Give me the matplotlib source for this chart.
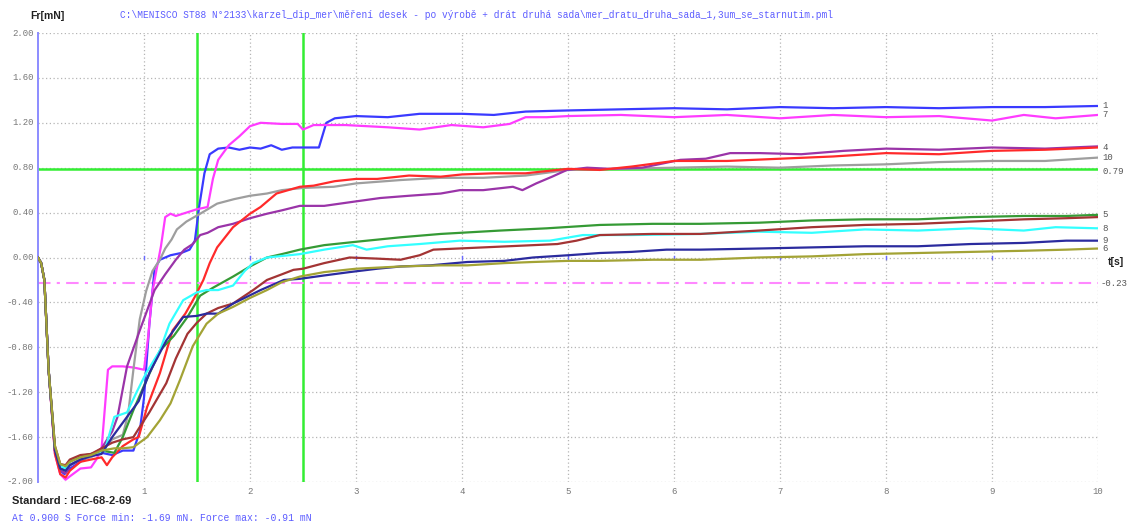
import matplotlib
matplotlib.use("Agg")
import matplotlib.pyplot as plt

# ---------------- data ----------------
blue_t = [0, 0.03, 0.06, 0.1, 0.16, 0.21, 0.25, 0.3, 0.4, 0.5, 0.6, 0.7, 0.8, 0.9, 0.96, 1.0, 1.05, 1.1, 1.15, 1.25, 1.35, 1.43, 1.48, 1.52, 1.57, 1.62, 1.7, 1.8, 1.9, 2.0, 2.1, 2.2, 2.3, 2.4, 2.5, 2.6, 2.65, 2.72, 2.8, 3.0, 3.3, 3.6, 4.0, 4.3, 4.6, 5.0, 5.5, 6.0, 6.5, 7.0, 7.5, 8.0, 8.5, 9.0, 9.5, 10.0]
blue_y = [0, -0.05, -0.2, -1.0, -1.72, -1.9, -1.93, -1.88, -1.82, -1.76, -1.74, -1.76, -1.72, -1.72, -1.55, -1.25, -0.6, -0.1, -0.02, 0.02, 0.04, 0.07, 0.15, 0.45, 0.75, 0.92, 0.97, 0.98, 0.96, 0.98, 0.97, 1.0, 0.96, 0.98, 0.98, 0.98, 0.98, 1.2, 1.24, 1.26, 1.25, 1.28, 1.28, 1.27, 1.30, 1.31, 1.32, 1.33, 1.32, 1.34, 1.33, 1.34, 1.33, 1.34, 1.34, 1.35]

magenta_t = [0, 0.03, 0.06, 0.1, 0.16, 0.21, 0.26, 0.3, 0.4, 0.5, 0.55, 0.6, 0.63, 0.66, 0.7, 0.8, 0.9, 1.0, 1.04, 1.08, 1.12, 1.16, 1.2, 1.25, 1.3, 1.4, 1.5, 1.6, 1.65, 1.7, 1.8, 1.9, 2.0, 2.1, 2.3, 2.45, 2.5, 2.6, 2.9, 3.1, 3.3, 3.6, 3.9, 4.2, 4.45, 4.6, 4.8, 5.0, 5.5, 6.0, 6.5, 7.0, 7.5, 8.0, 8.5, 9.0, 9.3, 9.6, 10.0]
magenta_y = [0, -0.05, -0.2, -1.0, -1.75, -1.93, -1.98, -1.95, -1.88, -1.87, -1.8, -1.7, -1.35, -1.0, -0.97, -0.97, -0.98, -1.0, -0.7, -0.3, -0.1, 0.1, 0.36, 0.39, 0.37, 0.40, 0.43, 0.45, 0.7, 0.87, 1.0, 1.08, 1.17, 1.2, 1.19, 1.19, 1.14, 1.18, 1.18, 1.17, 1.16, 1.14, 1.18, 1.16, 1.19, 1.25, 1.25, 1.26, 1.27, 1.25, 1.27, 1.24, 1.27, 1.25, 1.26, 1.22, 1.27, 1.24, 1.27]

red_t = [0, 0.03, 0.06, 0.1, 0.16, 0.21, 0.26, 0.3, 0.4, 0.5, 0.6, 0.65, 0.7, 0.8, 0.9, 0.95, 1.03, 1.15, 1.27, 1.39, 1.48, 1.56, 1.62, 1.69, 1.84, 2.0, 2.1, 2.25, 2.47, 2.6, 2.8, 3.0, 3.2, 3.5, 3.8, 4.0, 4.3, 4.6, 5.0, 5.3, 5.6, 6.0, 6.5, 7.0, 7.5, 8.0, 8.5, 9.0, 9.5, 10.0]
red_y = [0, -0.05, -0.2, -1.0, -1.75, -1.93, -1.96, -1.9, -1.82, -1.8, -1.78, -1.85, -1.78, -1.68, -1.62, -1.6, -1.33, -1.03, -0.65, -0.5, -0.35, -0.2, -0.05, 0.09, 0.27, 0.39, 0.45, 0.57, 0.63, 0.64, 0.68, 0.7, 0.7, 0.73, 0.72, 0.74, 0.75, 0.75, 0.79, 0.78, 0.81, 0.86, 0.86, 0.88, 0.9, 0.93, 0.92, 0.95, 0.96, 0.98]

gray_t = [0, 0.03, 0.06, 0.1, 0.16, 0.21, 0.26, 0.3, 0.4, 0.5, 0.6, 0.7, 0.8, 0.85, 0.9, 0.96, 1.02, 1.08, 1.15, 1.2, 1.26, 1.31, 1.4, 1.53, 1.69, 1.85, 2.0, 2.16, 2.3, 2.5, 2.79, 3.0, 3.42, 3.8, 4.2, 4.6, 5.0, 5.5, 6.0, 6.5, 7.0, 7.5, 8.0, 8.5, 9.0, 9.5, 10.0]
gray_y = [0, -0.05, -0.2, -1.0, -1.72, -1.88, -1.9, -1.85, -1.8, -1.78, -1.72, -1.62, -1.58, -1.4, -1.0, -0.55, -0.3, -0.12, -0.02, 0.08, 0.16, 0.25, 0.32, 0.39, 0.48, 0.52, 0.55, 0.57, 0.6, 0.62, 0.63, 0.66, 0.69, 0.71, 0.71, 0.73, 0.78, 0.79, 0.8, 0.81, 0.8, 0.82, 0.83, 0.85, 0.86, 0.86, 0.89]

purple_t = [0, 0.03, 0.06, 0.1, 0.16, 0.21, 0.26, 0.3, 0.4, 0.5, 0.6, 0.7, 0.75, 0.84, 0.96, 1.1, 1.2, 1.3, 1.38, 1.46, 1.53, 1.6, 1.7, 1.84, 2.0, 2.16, 2.3, 2.47, 2.7, 3.0, 3.23, 3.5, 3.8, 3.98, 4.2, 4.48, 4.57, 4.7, 4.85, 4.99, 5.18, 5.4, 5.7, 6.06, 6.3, 6.53, 6.81, 7.2, 7.6, 8.0, 8.5, 9.0, 9.5, 10.0]
purple_y = [0, -0.05, -0.2, -1.0, -1.72, -1.9, -1.92, -1.85, -1.8, -1.76, -1.7, -1.55, -1.42, -0.97, -0.65, -0.29, -0.15, -0.02, 0.07, 0.12, 0.2, 0.22, 0.27, 0.3, 0.35, 0.39, 0.42, 0.46, 0.46, 0.5, 0.53, 0.55, 0.57, 0.6, 0.6, 0.63, 0.6, 0.66, 0.72, 0.78, 0.8, 0.79, 0.8, 0.87, 0.88, 0.93, 0.93, 0.92, 0.95, 0.97, 0.96, 0.98, 0.97, 0.99]

green_t = [0, 0.03, 0.06, 0.1, 0.16, 0.21, 0.26, 0.3, 0.4, 0.5, 0.6, 0.72, 0.8, 0.9, 1.02, 1.15, 1.28, 1.41, 1.53, 1.65, 1.84, 2.0, 2.16, 2.3, 2.47, 2.7, 3.0, 3.42, 3.8, 4.36, 4.8, 5.3, 5.8, 6.25, 6.8, 7.3, 7.8, 8.3, 8.8, 9.3, 9.7, 10.0]
green_y = [0, -0.05, -0.2, -1.0, -1.7, -1.88, -1.88, -1.82, -1.77, -1.75, -1.72, -1.74, -1.6, -1.36, -1.1, -0.83, -0.7, -0.53, -0.34, -0.27, -0.17, -0.08, 0.0, 0.03, 0.07, 0.11, 0.14, 0.18, 0.21, 0.24, 0.26, 0.29, 0.3, 0.3, 0.31, 0.33, 0.34, 0.34, 0.36, 0.37, 0.37, 0.38]

cyan_t = [0, 0.03, 0.06, 0.1, 0.16, 0.21, 0.26, 0.3, 0.4, 0.5, 0.63, 0.72, 0.84, 0.93, 1.02, 1.15, 1.24, 1.37, 1.5, 1.59, 1.7, 1.84, 1.95, 2.03, 2.16, 2.47, 2.7, 2.97, 3.1, 3.3, 3.6, 3.98, 4.4, 4.83, 5.14, 5.6, 6.25, 6.8, 7.3, 7.8, 8.3, 8.8, 9.3, 9.6, 10.0]
cyan_y = [0, -0.05, -0.2, -1.0, -1.7, -1.86, -1.88, -1.82, -1.78, -1.76, -1.72, -1.42, -1.38, -1.2, -1.03, -0.83, -0.59, -0.38, -0.31, -0.29, -0.29, -0.25, -0.12, -0.05, 0.0, 0.03, 0.07, 0.11, 0.07, 0.1, 0.12, 0.15, 0.14, 0.15, 0.2, 0.2, 0.21, 0.23, 0.22, 0.25, 0.24, 0.26, 0.24, 0.27, 0.26]

brown_t = [0, 0.03, 0.06, 0.1, 0.16, 0.21, 0.26, 0.3, 0.4, 0.5, 0.6, 0.7, 0.8, 0.9, 0.96, 1.05, 1.21, 1.3, 1.41, 1.5, 1.59, 1.7, 1.84, 2.03, 2.16, 2.3, 2.41, 2.5, 2.7, 2.94, 3.2, 3.42, 3.6, 3.73, 4.2, 4.67, 4.9, 5.08, 5.3, 5.8, 6.25, 6.8, 7.3, 7.8, 8.3, 8.8, 9.3, 9.7, 10.0]
brown_y = [0, -0.05, -0.2, -1.0, -1.68, -1.84, -1.85, -1.8, -1.76, -1.75, -1.7, -1.65, -1.62, -1.6, -1.51, -1.38, -1.12, -0.9, -0.68, -0.58, -0.5, -0.45, -0.41, -0.29, -0.2, -0.15, -0.11, -0.1, -0.05, 0.0, -0.01, -0.02, 0.02, 0.07, 0.09, 0.11, 0.12, 0.15, 0.2, 0.21, 0.21, 0.24, 0.27, 0.29, 0.3, 0.32, 0.34, 0.35, 0.36]

navy_t = [0, 0.03, 0.06, 0.1, 0.16, 0.21, 0.26, 0.3, 0.4, 0.5, 0.6, 0.7, 0.84, 0.95, 1.05, 1.21, 1.37, 1.5, 1.59, 1.7, 1.84, 1.95, 2.1, 2.32, 2.47, 2.7, 2.94, 3.2, 3.42, 3.7, 4.05, 4.4, 4.67, 5.0, 5.3, 5.6, 5.93, 6.25, 6.8, 7.3, 7.8, 8.3, 8.8, 9.3, 9.7, 10.0]
navy_y = [0, -0.05, -0.2, -1.0, -1.72, -1.88, -1.9, -1.85, -1.8, -1.77, -1.75, -1.6, -1.42, -1.28, -1.03, -0.74, -0.53, -0.52, -0.5, -0.5, -0.41, -0.36, -0.29, -0.2, -0.19, -0.16, -0.13, -0.1, -0.08, -0.07, -0.04, -0.03, 0.0, 0.02, 0.04, 0.05, 0.07, 0.07, 0.08, 0.09, 0.1, 0.1, 0.12, 0.13, 0.15, 0.15]

olive_t = [0, 0.03, 0.06, 0.1, 0.16, 0.21, 0.26, 0.3, 0.4, 0.5, 0.6, 0.72, 0.8, 0.9, 1.03, 1.15, 1.25, 1.34, 1.46, 1.59, 1.7, 1.84, 2.0, 2.16, 2.3, 2.47, 2.7, 3.0, 3.42, 3.8, 4.05, 4.4, 4.67, 5.0, 5.3, 5.8, 6.25, 6.8, 7.3, 7.8, 8.3, 8.8, 9.3, 9.7, 10.0]
olive_y = [0, -0.05, -0.2, -1.0, -1.68, -1.84, -1.86, -1.82, -1.78, -1.76, -1.72, -1.7, -1.7, -1.69, -1.6, -1.45, -1.3, -1.09, -0.79, -0.59, -0.5, -0.44, -0.36, -0.29, -0.22, -0.17, -0.13, -0.1, -0.08, -0.07, -0.07, -0.05, -0.04, -0.03, -0.03, -0.02, -0.02, 0.0, 0.01, 0.03, 0.04, 0.05, 0.06, 0.07, 0.08]

cursor_t = [1.5, 2.5]
level_force = 0.79
mean_force = -0.23

y_ticks = [2.0, 1.6, 1.2, 0.8, 0.4, 0.0, -0.4, -0.8, -1.2, -1.6, -2.0]
x_ticks = [1, 2, 3, 4, 5, 6, 7, 8, 9, 10]

title_path = "C:\\MENISCO ST88 N°2133\\karzel_dip_mer\\měření desek - po výrobě + drát druhá sada\\mer_dratu_druha_sada_1,3um_se_starnutim.pml"
standard_text = "Standard : IEC-68-2-69"
result_text = "At 0.900 S Force min: -1.69 mN. Force max: -0.91 mN"

# ---------------- drawing ----------------
fig = plt.figure(figsize=(11.31, 5.28), dpi=100)
ax = fig.add_axes([38 / 1131, 1 - 482 / 528, (1098 - 38) / 1131, (482 - 33) / 528])
ax.set_xlim(0, 10)
ax.set_ylim(-2.0, 2.0)

mono = "Liberation Mono"
grid_kw = dict(color="#b5b5b5", lw=0.9, ls=(0, (1, 2)), zorder=0)
for xv in x_ticks:
    ax.axvline(xv, **grid_kw)
for yv in y_ticks:
    ax.axhline(yv, **grid_kw)

for s in ["top", "right", "bottom"]:
    ax.spines[s].set_visible(False)
ax.spines["left"].set_color("#8c8cff")
ax.spines["left"].set_linewidth(1.4)
ax.set_xticks([])
ax.set_yticks([])

trans = ax.get_yaxis_transform()
for yv in y_ticks:
    ax.text(-0.004, yv, f"{yv:.2f}", transform=trans, ha="right", va="center",
            fontsize=6.5, family=mono, color="#777777")
xtrans = ax.get_xaxis_transform()
for xv in x_ticks:
    ax.text(xv, -0.022, str(xv), transform=xtrans, ha="center", va="center",
            fontsize=6.5, family=mono, color="#777777")

# small blue tick marks on the zero line
for xv in x_ticks[:-1]:
    ax.plot([xv, xv], [-0.015, 0.015], color="#6a6aff", lw=1.0, zorder=1)

# reference lines
for ct in cursor_t:
    ax.axvline(ct, color="#33ee33", lw=1.8, zorder=2)
ax.axhline(level_force, color="#33ee33", lw=1.8, zorder=2)
ax.axhline(mean_force, color="#ff88ff", lw=1.5, ls=(0, (6, 3, 1.5, 3)), zorder=2)

curves = [
    (blue_t, blue_y, "#3a3aff"),
    (magenta_t, magenta_y, "#ff3cff"),
    (gray_t, gray_y, "#9e9e9e"),
    (purple_t, purple_y, "#9a34a8"),
    (red_t, red_y, "#ff2a2a"),
    (green_t, green_y, "#359a35"),
    (cyan_t, cyan_y, "#33ffff"),
    (brown_t, brown_y, "#a33434"),
    (navy_t, navy_y, "#2b2b9e"),
    (olive_t, olive_y, "#a3a335"),
]
curve_labels = ["1", "7", "10", "", "4", "5", "8", "", "9", "6"]
for (t, y, c), lab in zip(curves, curve_labels):
    ax.plot(t, y, color=c, lw=1.6, zorder=3, solid_joinstyle="round")
    if lab:
        ax.text(1.004, y[-1], lab, transform=ax.get_yaxis_transform(), ha="left",
                va="center", fontsize=6.5, family=mono, color="#555555")

ax.text(1.004, level_force - 0.02, f"{level_force:.2f}", transform=trans, ha="left",
        va="center", fontsize=6.5, family=mono, color="#555555")
ax.text(1.002, mean_force, f"{mean_force:.2f}", transform=trans, ha="left",
        va="center", fontsize=6.5, family=mono, color="#555555")
ax.text(1.009, -0.04, "t[s]", transform=trans, ha="left", va="center",
        fontsize=7.5, family="Liberation Sans", weight="bold", color="#222222")

# texts around
fig.text(30 / 1131, 1 - 16 / 528, "Fr[mN]", fontsize=7.5, family="Liberation Sans",
         weight="bold", color="#222222", ha="left", va="center")
fig.text(120 / 1131, 1 - 15 / 528, title_path, fontsize=6.85, family=mono,
         color="#5c5cff", ha="left", va="center")
fig.text(12 / 1131, 1 - 501 / 528, standard_text, fontsize=8, family="Liberation Sans",
         weight="bold", color="#222222", ha="left", va="center")
fig.text(12 / 1131, 1 - 518 / 528, result_text, fontsize=7, family=mono,
         color="#5c5cff", ha="left", va="center")

fig.savefig("out.png", dpi=100, facecolor="white")
